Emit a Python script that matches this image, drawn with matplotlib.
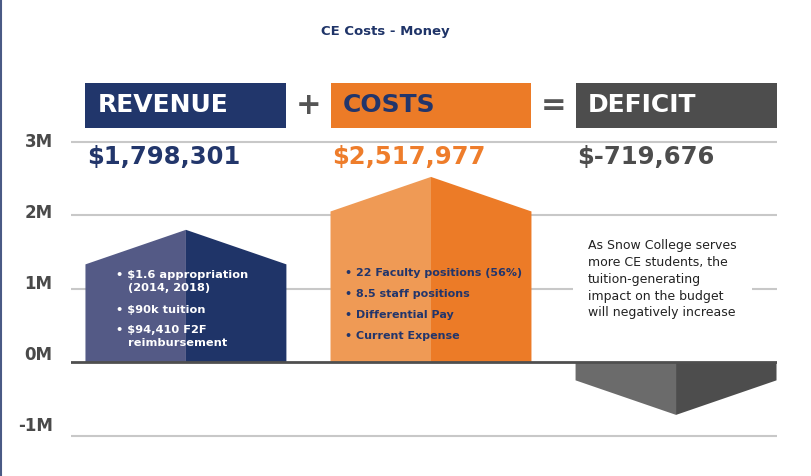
import matplotlib.pyplot as plt
from matplotlib.patches import Polygon, Rectangle
from matplotlib.lines import Line2D

# data
categories = ["REVENUE", "COSTS", "DEFICIT"]
values = [1798301, 2517977, -719676]  # dollars
amount_labels = ["$1,798,301", "$2,517,977", "$-719,676"]
operators = ["+", "="]
yticks = [-1, 0, 1, 2, 3]
ytick_labels = ["-1M", "0M", "1M", "2M", "3M"]

revenue_notes = ["• $1.6 appropriation\n   (2014, 2018)", "• $90k tuition", "• $94,410 F2F\n   reimbursement"]
cost_notes = ["• 22 Faculty positions (56%)", "• 8.5 staff positions", "• Differential Pay", "• Current Expense"]
side_note = "As Snow College serves\nmore CE students, the\ntuition-generating\nimpact on the budget\nwill negatively increase"

# colours: (light half, dark half)
house_colors = [("#545a86", "#1f3468"), ("#ef9a55", "#ec7b27"), ("#6b6b6b", "#4d4d4d")]
head_colors = ["#21366b", "#ec7b27", "#4d4d4d"]
head_text = ["white", "#22356b", "white"]
amount_colors = ["#22366b", "#ee7d2b", "#4d4d4d"]

W, H = 8.11, 4.76
fig = plt.figure(figsize=(W, H), dpi=100)
px = 73.5  # pixels per million
ylo, yhi = -1.1, 3.9
bottom = 362 + (-ylo) * px
top = 362 - yhi * px
ax = fig.add_axes([71 / 811, 1 - bottom / 476, 706 / 811, (bottom - top) / 476])
ax.set_ylim(ylo, yhi)
ax.set_xlim(-0.469, 2.412)
for s in ax.spines.values():
    s.set_visible(False)
ax.set_xticks([])
ax.set_yticks([])

# gridlines + labels (labels sit on a slightly tighter scale than the lines)
for t, lab in zip(yticks, ytick_labels):
    if t == 0:
        ax.axhline(0, color="#4f4f4f", lw=2, zorder=4)
    else:
        ax.axhline(t, color="#c8c8c8", lw=1.5, zorder=0)
    ax.text(-0.026, 3 - (3 - t) * 71 / 73.5 - 0.005, lab, transform=ax.get_yaxis_transform(),
            fontsize=12, fontweight="bold", color="#4a4a4a", ha="right", va="center")

hw = 0.41    # half width of a house
roof = 0.47  # roof height in millions
for i, v in enumerate(values):
    m = v / 1e6
    sh = m - roof if m > 0 else m + roof
    light, dark = house_colors[i]
    ax.add_patch(Polygon([(i - hw, 0), (i - hw, sh), (i, m), (i, 0)],
                         closed=True, fc=light, ec="none", zorder=2))
    ax.add_patch(Polygon([(i, 0), (i, m), (i + hw, sh), (i + hw, 0)],
                         closed=True, fc=dark, ec="none", zorder=2))
    # header box
    ax.add_patch(Rectangle((i - hw, 3.184), 2 * hw, 0.612, fc=head_colors[i],
                           ec="none", zorder=3, clip_on=False))
    ax.text(i - hw + 0.05, 3.49, categories[i], color=head_text[i], fontsize=18,
            fontweight="bold", va="center", ha="left", zorder=5)
    ax.text(i - hw + 0.005, 2.79, amount_labels[i], color=amount_colors[i], fontsize=17.5,
            fontweight="bold", va="center", ha="left", zorder=5)

for j, op in enumerate(operators):
    ax.text(j + 0.5, 3.49, op, color="#555555", fontsize=22, fontweight="bold",
            ha="center", va="center")

# notes in revenue house
rev_y = [1.245, 0.78, 0.5]
for t, y in zip(revenue_notes, rev_y):
    ax.text(-0.285, y, t, color="white", fontsize=8.2, fontweight="bold",
            va="top", ha="left", linespacing=1.3, zorder=5)
cost_y = [1.21, 0.93, 0.64, 0.36]
for t, y in zip(cost_notes, cost_y):
    ax.text(1 - 0.35, y, t, color="#22356b", fontsize=8, fontweight="bold",
            va="center", ha="left", zorder=5)

ax.text(2 - 0.36, 1.67, side_note, color="#222222", fontsize=9, va="top", ha="left",
        linespacing=1.38, zorder=5,
        bbox=dict(fc="white", ec="none", pad=11))

fig.text(385 / 811, 1 - 31 / 476, "CE Costs - Money", color="#1f3468", fontsize=9.5,
         fontweight="bold", ha="center", va="center")

# slide border on the left
fig.add_artist(Line2D([0.001, 0.001], [0, 1], color="#4a5a85", lw=1.5, transform=fig.transFigure))

fig.savefig("out.png", dpi=100)
